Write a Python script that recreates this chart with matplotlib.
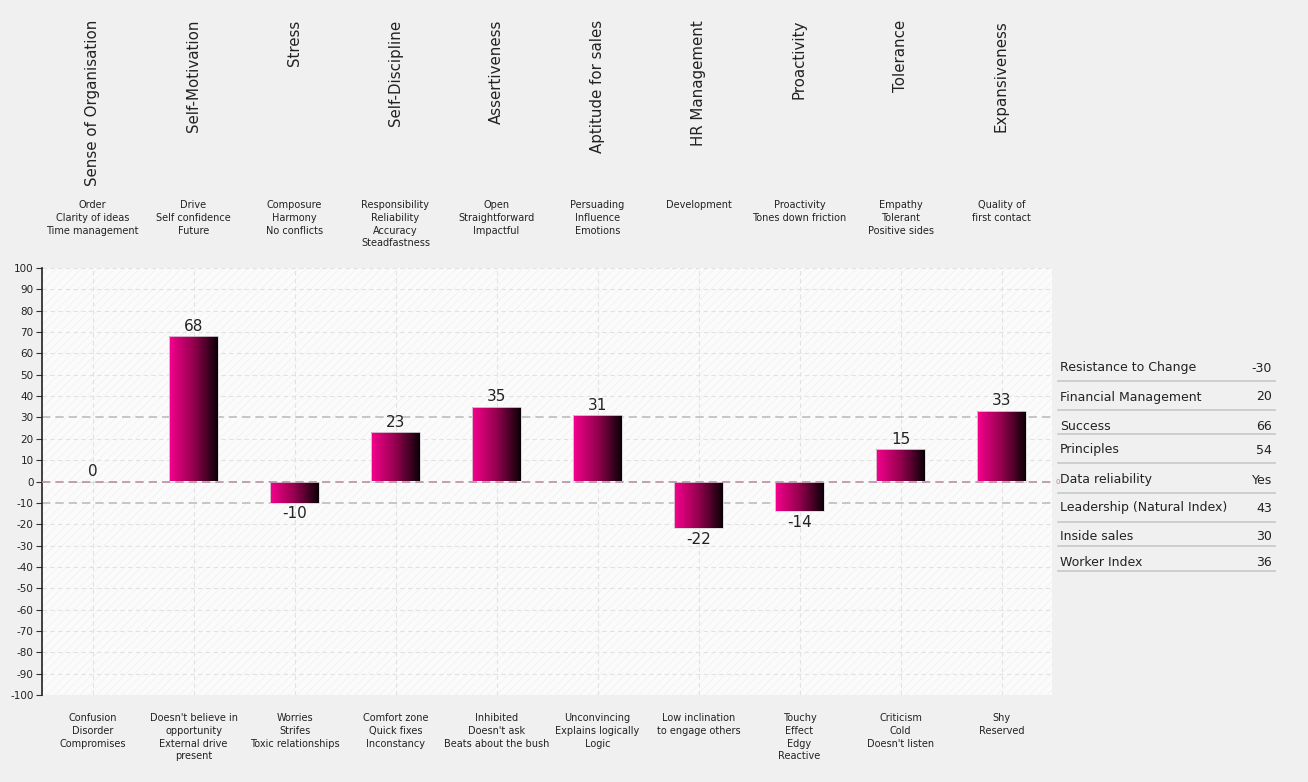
import numpy as np
import matplotlib
matplotlib.use("Agg")
import matplotlib.pyplot as plt
from matplotlib.transforms import blended_transform_factory
from matplotlib.colors import LinearSegmentedColormap
from matplotlib.patches import Rectangle

# ---------------- data ----------------
titles = ["Sense of Organisation", "Self-Motivation", "Stress", "Self-Discipline",
          "Assertiveness", "Aptitude for sales", "HR Management", "Proactivity",
          "Tolerance", "Expansiveness"]
top_desc = ["Order\nClarity of ideas\nTime management",
            "Drive\nSelf confidence\nFuture",
            "Composure\nHarmony\nNo conflicts",
            "Responsibility\nReliability\nAccuracy\nSteadfastness",
            "Open\nStraightforward\nImpactful",
            "Persuading\nInfluence\nEmotions",
            "Development",
            "Proactivity\nTones down friction",
            "Empathy\nTolerant\nPositive sides",
            "Quality of\nfirst contact"]
bottom_desc = ["Confusion\nDisorder\nCompromises",
               "Doesn't believe in\nopportunity\nExternal drive\npresent",
               "Worries\nStrifes\nToxic relationships",
               "Comfort zone\nQuick fixes\nInconstancy",
               "Inhibited\nDoesn't ask\nBeats about the bush",
               "Unconvincing\nExplains logically\nLogic",
               "Low inclination\nto engage others",
               "Touchy\nEffect\nEdgy\nReactive",
               "Criticism\nCold\nDoesn't listen",
               "Shy\nReserved"]
values = [0, 68, -10, 23, 35, 31, -22, -14, 15, 33]
ref_upper = 30
ref_lower = -10
y_ticks = list(range(-100, 101, 10))

table_labels = ["Resistance to Change", "Financial Management", "Success", "Principles",
                "Data reliability", "Leadership (Natural Index)", "Inside sales", "Worker Index"]
table_values = ["-30", "20", "66", "54", "Yes", "43", "30", "36"]

# ---------------- layout ----------------
W, H = 1308, 782
plt.rcParams['font.family'] = ['DejaVu Sans']
plt.rcParams['hatch.linewidth'] = 0.5
fig = plt.figure(figsize=(W / 100, H / 100), dpi=100)
fig.patch.set_facecolor("#f0f0f0")

ax_l, ax_r, ax_t, ax_b = 42, 1052, 268, 695
ax = fig.add_axes([ax_l / W, 1 - ax_b / H, (ax_r - ax_l) / W, (ax_b - ax_t) / H])
ax.set_facecolor("#fbfbfb")
ax.add_patch(Rectangle((0, 0), 1, 1, transform=ax.transAxes, facecolor="none",
                       edgecolor="#f0f0f0", hatch="////", lw=0, zorder=0))

x = np.arange(len(values))
for yv in y_ticks:
    if yv in (ref_upper, ref_lower, 0):
        continue
    ax.axhline(yv, color="#e2e2e2", lw=0.8, ls=(0, (4, 3)), zorder=1)
for xv in x:
    ax.axvline(xv, color="#e2e2e2", lw=0.8, ls=(0, (4, 3)), zorder=1)
ax.axhline(ref_upper, color="#bdbdbd", lw=1.2, ls=(0, (5, 3)), zorder=1)
ax.axhline(ref_lower, color="#bdbdbd", lw=1.2, ls=(0, (5, 3)), zorder=1)

cmap = LinearSegmentedColormap.from_list("pk", ["#f8008f", "#94004e", "#0a0006"])
grad = np.linspace(0, 1, 256).reshape(1, -1)
bars = ax.bar(x, values, width=0.48, color="none", edgecolor="#d8d8d8", lw=0.6, zorder=3)
for b in bars:
    bx, by, bw, bh = b.get_x(), b.get_y(), b.get_width(), b.get_height()
    if bh == 0:
        continue
    im = ax.imshow(grad, cmap=cmap, aspect="auto", extent=[bx, bx + bw, by, by + bh],
                   zorder=2.5, interpolation="bicubic")
    im.set_clip_path(b)

ax.axhline(0, color="#b890a0", lw=1.2, ls=(0, (5, 3)), zorder=4)

for xi, v in zip(x, values):
    if v >= 0:
        ax.text(xi, v + 1.2, str(v), ha="center", va="bottom", fontsize=11, color="#222222", zorder=5)
    else:
        ax.text(xi, v - 1.5, str(v), ha="center", va="top", fontsize=11, color="#222222", zorder=5)

ax.set_xlim(-0.5, len(values) - 0.5)
ax.set_ylim(-100, 100)
ax.set_yticks(y_ticks)
ax.set_yticklabels([str(t) for t in y_ticks], fontsize=7.5, color="#222222")
ax.tick_params(axis="y", length=4, width=0.8, pad=2, color="#333333")
ax.set_xticks([])
for s in ["top", "right", "bottom"]:
    ax.spines[s].set_visible(False)
ax.spines["left"].set_color("#222222")
ax.spines["left"].set_linewidth(1.2)

ax.text(1.003, 0, "0", transform=blended_transform_factory(ax.transAxes, ax.transData),
        fontsize=5, color="#c08080", ha="left", va="center")

# ---------- category texts ----------
tr = blended_transform_factory(ax.transData, fig.transFigure)
for xi, t, td, bd in zip(x, titles, top_desc, bottom_desc):
    ax.text(xi, 1 - 20 / H, t, transform=tr, rotation=90, ha="center", va="top",
            fontsize=10.8, color="#222222")
    ax.text(xi, 1 - 200 / H, td, transform=tr, ha="center", va="top",
            fontsize=7, color="#222222", linespacing=1.35)
    ax.text(xi, 1 - 713 / H, bd, transform=tr, ha="center", va="top",
            fontsize=7, color="#222222", linespacing=1.35)

# ---------- right table ----------
row_y = [368, 397, 426, 450, 480, 508, 537, 563]
line_y = [381, 410, 434, 463, 493, 522, 546, 571]
for lab, val, ry, ly in zip(table_labels, table_values, row_y, line_y):
    fig.text(1060 / W, 1 - ry / H, lab, ha="left", va="center", fontsize=9, color="#222222")
    fig.text(1272 / W, 1 - ry / H, val, ha="right", va="center", fontsize=9, color="#222222")
    fig.add_artist(plt.Line2D([1058 / W, 1275 / W], [1 - ly / H, 1 - ly / H],
                              transform=fig.transFigure, color="#c8c8c8", lw=1.2))

fig.savefig("out.png", dpi=100, facecolor=fig.get_facecolor())
